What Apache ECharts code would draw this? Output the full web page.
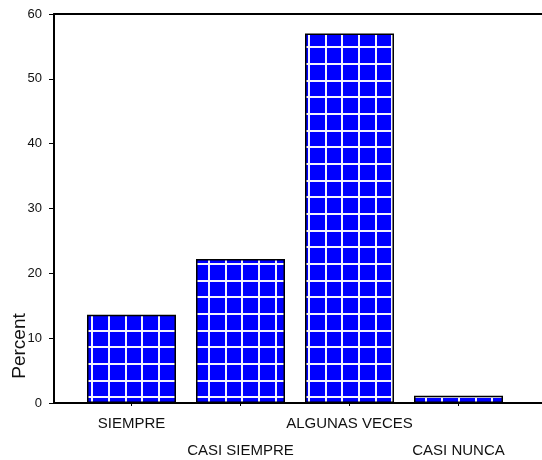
<!DOCTYPE html>
<html>
<head>
<meta charset="utf-8">
<script src="https://cdn.jsdelivr.net/npm/echarts@6/dist/echarts.min.js"></script>
<style>
  html, body { margin: 0; padding: 0; background: #fff; }
  #chart { width: 542px; height: 460px; }
</style>
</head>
<body>
<div id="chart"></div>
<script>
const categories = ['SIEMPRE', 'CASI SIEMPRE', 'ALGUNAS VECES', 'CASI NUNCA'];
const percents = [13.6, 22.2, 57.0, 1.1];
const yMin = 0, yMax = 60, yStep = 10;
const yAxisTitle = 'Percent';

// blue fill with white grid pattern
const pat = document.createElement('canvas');
pat.width = 50; pat.height = 50;
const g = pat.getContext('2d');
g.fillStyle = '#0000ff';
g.fillRect(0, 0, 50, 50);
g.fillStyle = '#f4f4ff';
[8, 25, 41].forEach(function (x) { g.fillRect(x, 0, 2, 50); });
[13, 30, 46].forEach(function (y) { g.fillRect(0, y, 50, 2); });

const FONT = '"Liberation Sans", Arial, sans-serif';
const chart = echarts.init(document.getElementById('chart'), null, { renderer: 'canvas' });
chart.setOption({
  animation: false,
  backgroundColor: '#fff',
  grid: [
    { left: 54, right: -5, top: 14, bottom: 57, containLabel: false, outerBoundsMode: 'none' },
    { left: 77, width: 436, top: 14, bottom: 57, containLabel: false, outerBoundsMode: 'none' }
  ],
  xAxis: [
    { type: 'value', gridIndex: 0, position: 'bottom', min: 0, max: 1,
      axisLine: { show: true, lineStyle: { color: '#000', width: 2 } },
      axisTick: { show: false }, axisLabel: { show: false }, splitLine: { show: false } },
    { type: 'value', gridIndex: 0, position: 'top', min: 0, max: 1,
      axisLine: { show: true, lineStyle: { color: '#000', width: 2 } },
      axisTick: { show: false }, axisLabel: { show: false }, splitLine: { show: false } },
    { type: 'category', gridIndex: 1, data: categories, boundaryGap: true,
      axisLine: { show: false },
      axisTick: { show: true, alignWithLabel: true, length: 3, lineStyle: { color: '#000', width: 1 } },
      axisLabel: {
        interval: 0, margin: 7, color: '#111',
        fontFamily: FONT, fontSize: 15, lineHeight: 27,
        formatter: function (v, i) { return i % 2 ? '\n' + v : v; }
      },
      splitLine: { show: false } }
  ],
  yAxis: [
    { type: 'value', gridIndex: 0, min: yMin, max: yMax, interval: yStep,
      axisLine: { show: true, lineStyle: { color: '#000', width: 2 } },
      axisTick: { show: true, inside: false, length: 5, lineStyle: { color: '#000', width: 1 } },
      axisLabel: { margin: 12, color: '#111', fontFamily: FONT, fontSize: 13 },
      splitLine: { show: false } },
    { type: 'value', gridIndex: 1, min: yMin, max: yMax, interval: yStep, show: false }
  ],
  graphic: [
    { type: 'text', x: 20, y: 346, rotation: Math.PI / 2,
      style: { text: yAxisTitle, fill: '#111', font: '19px ' + FONT,
               textAlign: 'center', textVerticalAlign: 'middle' } }
  ],
  series: [
    { type: 'bar', xAxisIndex: 2, yAxisIndex: 1, data: percents, barWidth: 89,
      itemStyle: { color: { image: pat, repeat: 'repeat' }, borderColor: '#000', borderWidth: 1.5 },
      emphasis: { disabled: true } }
  ]
});
</script>
</body>
</html>
